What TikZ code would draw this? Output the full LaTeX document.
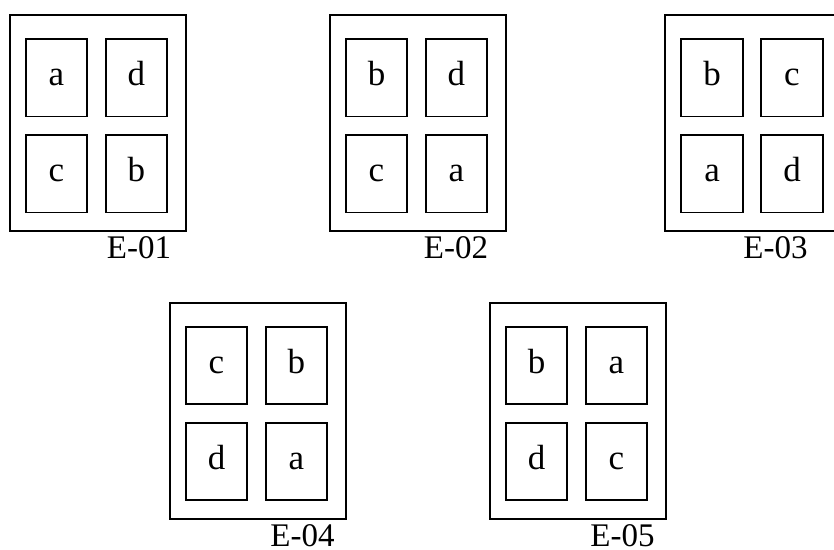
\documentclass[tikz,border=0pt]{standalone}
\usepackage{fontspec}
\setmainfont{Liberation Serif}
\begin{document}
\begin{tikzpicture}[x=1pt,y=-1pt,
  frame/.style={draw,line width=1.8pt,rectangle,minimum width=176pt,minimum height=216pt,inner sep=0pt},
  cell/.style={draw,line width=1.8pt,rectangle,minimum width=61.6pt,minimum height=77.5pt,inner sep=0pt,
    font=\fontsize{35}{35}\selectfont,text height=16pt,text depth=0pt},
  caption/.style={anchor=base,inner sep=0pt,font=\fontsize{33}{33}\selectfont}]
\clip (0,0) rectangle (834,549);
\useasboundingbox (0,0) rectangle (834,549);
% #1 name, #2 left, #3 top, #4-#7 cell letters, #8 caption, #9 caption x, caption baseline below top = 243.5
\newcommand\panel[9]{%
  \node[frame] (#1) at (#2+88,#3+108) {};
  \node[cell] (#1tl) at (#2+46.8,#3+62.75) {#4};
  \node[cell] (#1tr) at (#2+126.7,#3+62.75) {#5};
  \node[cell] (#1bl) at (#2+46.8,#3+158.75) {#6};
  \node[cell] (#1br) at (#2+126.7,#3+158.75) {#7};
  \node[caption] (#1cap) at (#9,#3+243.3) {#8};
}
\panel{e1}{9.7}{15}{a}{d}{c}{b}{E-01}{139}
\panel{e2}{329.7}{15}{b}{d}{c}{a}{E-02}{456}
\panel{e3}{665.3}{15}{b}{c}{a}{d}{E-03}{775.5}
\panel{e4}{169.7}{302.7}{c}{b}{d}{a}{E-04}{302.5}
\panel{e5}{489.7}{302.7}{b}{a}{d}{c}{E-05}{622.5}
\end{tikzpicture}
\end{document}
